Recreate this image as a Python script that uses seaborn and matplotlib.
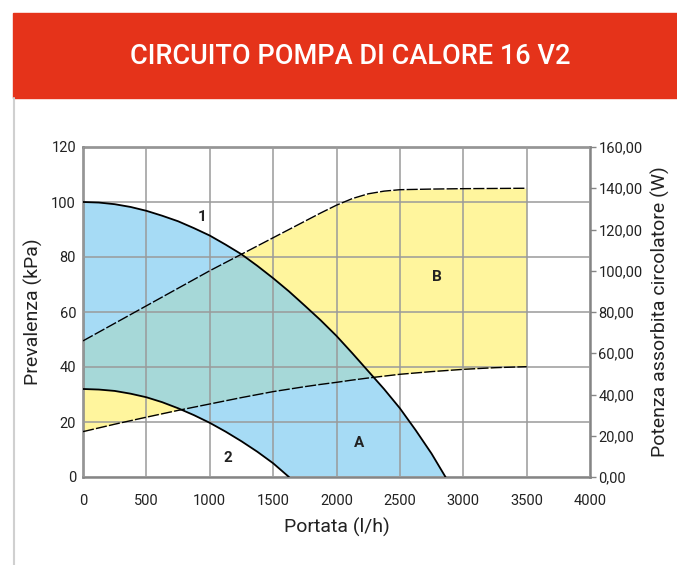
import numpy as np
import pandas as pd
import matplotlib
matplotlib.use("Agg")
import matplotlib.pyplot as plt
import seaborn as sns
from matplotlib.patches import Rectangle
from matplotlib.lines import Line2D
from matplotlib.ticker import FuncFormatter

# ---------------- data ----------------
title = "CIRCUITO POMPA DI CALORE 16 V2"

# pump curve 1 (max speed) - head in kPa vs flow in l/h
flow1 = [0, 125, 250, 375, 500, 625, 750, 875, 1000, 1125, 1250, 1375, 1500,
         1625, 1750, 1875, 2000, 2125, 2250, 2375, 2500, 2625, 2750, 2860]
head1 = [100, 99.8, 99.2, 98.2, 96.8, 95, 93, 90.5, 87.8, 84.5, 81, 76.8, 72.3,
         67.5, 62.3, 57, 51.3, 45, 38.5, 32, 25, 17, 8.5, 0]

# pump curve 2 (min speed)
flow2 = [0, 125, 250, 375, 500, 625, 750, 875, 1000, 1125, 1250, 1375, 1500, 1625]
head2 = [32, 31.8, 31.3, 30.3, 29, 27.2, 25, 22.5, 19.7, 16.5, 13, 9.2, 5, 0]

# absorbed power of the circulator (W) - right axis
power_flow = [0, 250, 500, 750, 1000, 1250, 1500, 1750, 1875, 2000, 2125, 2250,
              2375, 2500, 2750, 3000, 3250, 3500]
power_max = [66, 74.5, 83, 91.5, 100, 108, 116, 124, 128, 131.8, 135, 137.3,
             138.6, 139.3, 139.6, 139.8, 139.9, 140]
power_min = [22, 25.6, 29, 32.3, 35.4, 38.5, 41.4, 43.8, 44.9, 45.9, 47, 48,
             48.9, 49.8, 51.1, 52.2, 53, 53.5]

# region labels
label_text = ["1", "2", "A", "B"]
label_x = [940, 1140, 2180, 2795]
label_y = [94.5, 7, 12.4, 72.7]

x_ticks = list(range(0, 4001, 500))
y_ticks = list(range(0, 121, 20))
y2_ticks = list(range(0, 161, 20))

# ---------------- style ----------------
sns.set_theme(style="white")
plt.rcParams["font.family"] = ["Roboto", "DejaVu Sans"]

RED = "#E5331A"
BLUE = "#80CDF2"      # drawn with alpha 0.7 (gives teal over yellow)
YELLOW = "#FFF59D"
GRID = "#9a9a9a"
SPINE = "#858585"
TXT = "#222222"

W, H = 677, 565
fig = plt.figure(figsize=(W / 100, H / 100), dpi=100)

# banner
fig.patches.append(Rectangle((13 / W, 1 - 98 / H), (W - 13) / W, 85 / H,
                             transform=fig.transFigure, color=RED, zorder=0))
fig.text(350 / W, 1 - 56 / H, title, color="white", ha="center", va="center",
         fontsize=19.5, fontweight="medium")
fig.add_artist(Line2D([13.5 / W, 13.5 / W], [0, 1 - 98 / H], color="#d0d0d0",
                      lw=1.5, transform=fig.transFigure))

ax = fig.add_axes([83 / W, 1 - 477 / H, (590 - 83) / W, (477 - 147) / H])
ax2 = ax.twinx()
ax.set_zorder(ax2.get_zorder() + 1)
ax.patch.set_visible(False)
ax.set_xlim(0, 4000)
ax.set_ylim(0, 120)
ax2.set_ylim(0, 160)

# power region (yellow) on right axis, below everything
ax2.fill_between(power_flow, power_min, power_max, color=YELLOW, lw=0, zorder=1)

# pump operating region (blue) on left axis
poly_x = list(flow1) + list(flow2[::-1])
poly_y = list(head1) + list(head2[::-1])
ax.fill(poly_x, poly_y, color=BLUE, alpha=0.7, lw=0, zorder=1)

# power curves drawn on top, in the right-axis (W) coordinates
pw = pd.DataFrame({"flow": power_flow, "pmax": power_max, "pmin": power_min})
for col in ["pmax", "pmin"]:
    sns.lineplot(data=pw, x="flow", y=col, ax=ax, color="black", lw=1,
                 linestyle=(0, (8, 1.6)), zorder=3, transform=ax2.transData)

# pump curves
p1 = pd.DataFrame({"flow": flow1, "head": head1})
p2 = pd.DataFrame({"flow": flow2, "head": head2})
sns.lineplot(data=p1, x="flow", y="head", ax=ax, color="black", lw=1.3, zorder=3)
sns.lineplot(data=p2, x="flow", y="head", ax=ax, color="black", lw=1.3, zorder=3)

for t, xx, yy in zip(label_text, label_x, label_y):
    ax.text(xx, yy, t, ha="center", va="center", fontsize=11,
            fontweight="bold", color=TXT, zorder=4)

# axes setup
ax.set_xlim(0, 4000)
ax.set_ylim(0, 120)
ax2.set_ylim(0, 160)
ax.set_xticks(x_ticks)
ax.set_yticks(y_ticks)
ax2.set_yticks(y2_ticks)
ax2.yaxis.set_major_formatter(FuncFormatter(lambda v, p: f"{v:.2f}".replace(".", ",")))

ax.grid(True, color=GRID, lw=1.1)
ax.set_axisbelow(False)
ax2.grid(False)

for s in ax.spines.values():
    s.set_visible(True)
    s.set_color(SPINE)
    s.set_linewidth(1.8)
for s in ax2.spines.values():
    s.set_visible(False)

ax.tick_params(axis="both", length=0, labelsize=10.5, colors=TXT)
ax.tick_params(axis="x", pad=12)
ax.tick_params(axis="y", pad=5)
ax2.tick_params(axis="y", direction="out", length=4, width=1, color=SPINE,
                labelsize=10.5, labelcolor=TXT, pad=2, right=True)

ax.set_xlabel("Portata (l/h)", fontsize=14, color=TXT, labelpad=7)
ax.set_ylabel("Prevalenza (kPa)", fontsize=14, color=TXT, labelpad=6)
ax2.set_ylabel("Potenza assorbita circolatore (W)", fontsize=14, color=TXT,
               labelpad=6)

fig.savefig("out.png", dpi=100)
